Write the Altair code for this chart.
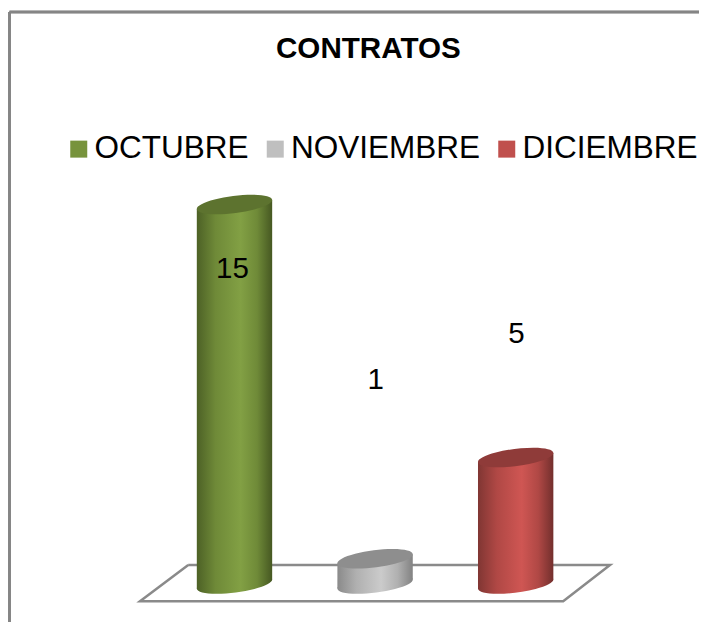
import altair as alt
import pandas as pd

months = ["OCTUBRE", "NOVIEMBRE", "DICIEMBRE"]
values = [15, 1, 5]
slots = [1, 2, 3]
label_y = [12.45, 8.06, 9.88]
label_x = [0.985, 2.005, 3.005]
palette = ["#77933c", "#bfbfbf", "#c0504d"]
top_colors = ["#5d732f", "#8e8e8e", "#8f3b39"]
side_stops = [
    ["#4d6126", "#6f8a38", "#82a044", "#6f8a38", "#465822"],
    ["#8a8a8a", "#b0b0b0", "#cbcbcb", "#b0b0b0", "#828282"],
    ["#803633", "#b04845", "#cf5653", "#b04845", "#732f2d"],
]
stop_offsets = [0, 0.25, 0.58, 0.8, 1]
floor_x = [0.671, 3.671, 3.338, 0.328, 0.671]
floor_y = [0.751, 0.751, -0.684, -0.684, 0.751]

half_w = 0.268
skew = 0.178
FONT = "Liberation Sans"
ELLIPSE = ("M -0.999 0.126 A 1.007 0.226 -7.2 1 1 0.999 -0.126 "
           "A 1.007 0.226 -7.2 1 1 -0.999 0.126 Z")
ELLIPSE_SIZE = 5685

x_scale = alt.Scale(domain=[-0.611, 4.304], nice=False, zero=False, padding=0)
y_scale = alt.Scale(domain=[-1.502, 22.766], nice=False, zero=False, padding=0)
X = alt.X("x:Q", scale=x_scale, axis=None)
Y = alt.Y("y:Q", scale=y_scale, axis=None)

df = pd.DataFrame({"mes": months, "x": slots, "y": values, "base": [0, 0, 0]})
floor_df = pd.DataFrame({"x": floor_x, "y": floor_y, "i": range(len(floor_x))})
label_df = pd.DataFrame({"x": label_x, "y": label_y, "t": [str(v) for v in values]})

frame = [
    alt.Chart(df).mark_rule(color="#858585", strokeWidth=2.5).encode(
        x=alt.value(1.5), y=alt.value(4), y2=alt.value(614)),
    alt.Chart(df).mark_rule(color="#858585", strokeWidth=2.5).encode(
        x=alt.value(1.5), x2=alt.value(691), y=alt.value(4)),
]

floor = alt.Chart(floor_df).mark_line(color="#8a8a8a", strokeWidth=2.5).encode(
    x=X, y=Y, order="i:Q")

data_bars = alt.Chart(df).mark_bar(size=40).encode(
    x=X,
    y=alt.Y("y:Q", scale=y_scale, axis=None, stack=None),
    y2="base:Q",
    color=alt.Color(
        "mes:N",
        scale=alt.Scale(domain=months, range=palette),
        legend=alt.Legend(
            orient="none", legendX=55, legendY=125, direction="horizontal",
            title=None, symbolType="square", symbolSize=289, symbolStrokeWidth=0,
            labelFont=FONT, labelFontSize=31.5, labelColor="#000000", padding=0,
            labelOffset=0, columnPadding=10.5, labelLimit=400,
        ),
    ),
)


def gradient(colors):
    return alt.Gradient(
        gradient="linear", x1=0, x2=1, y1=0, y2=0,
        stops=[alt.GradientStop(color=c, offset=o) for c, o in zip(colors, stop_offsets)],
    )


cylinders = []
for s, v, stops, top in zip(slots, values, side_stops, top_colors):
    one = pd.DataFrame({"x": [s], "y": [v]})
    side = pd.DataFrame({
        "x": [s - half_w, s + half_w],
        "y": [v - skew, v + skew],
        "y0": [-skew, skew],
    })
    cylinders.append(
        alt.Chart(pd.DataFrame({"x": [s], "y": [0]}))
        .mark_point(shape=ELLIPSE, size=ELLIPSE_SIZE, filled=True, opacity=1,
                    color=gradient(stops))
        .encode(x=X, y=Y)
    )
    cylinders.append(
        alt.Chart(side).mark_area(color=gradient(stops)).encode(
            x=X, y=alt.Y("y:Q", scale=y_scale, axis=None, stack=None), y2="y0:Q")
    )
    cylinders.append(
        alt.Chart(one)
        .mark_point(shape=ELLIPSE, size=ELLIPSE_SIZE, filled=True, opacity=1, color=top)
        .encode(x=X, y=Y)
    )

labels = alt.Chart(label_df).mark_text(
    font=FONT, fontSize=29.5, color="#000000", align="center", baseline="middle"
).encode(x=X, y=Y, text="t:N")

chart = alt.layer(*frame, floor, data_bars, *cylinders, labels).properties(
    width=691, height=614, padding=0,
    autosize=alt.AutoSizeParams(type="none"),
    title=alt.TitleParams(
        "CONTRATOS", font=FONT, fontSize=29.6, fontWeight="bold", color="#000000",
        anchor="start", dx=268, offset=-80, baseline="alphabetic",
    ),
).configure_view(stroke=None).resolve_scale(x="shared", y="shared")

chart.save("out.html", embed_options={"renderer": "svg", "actions": False})
